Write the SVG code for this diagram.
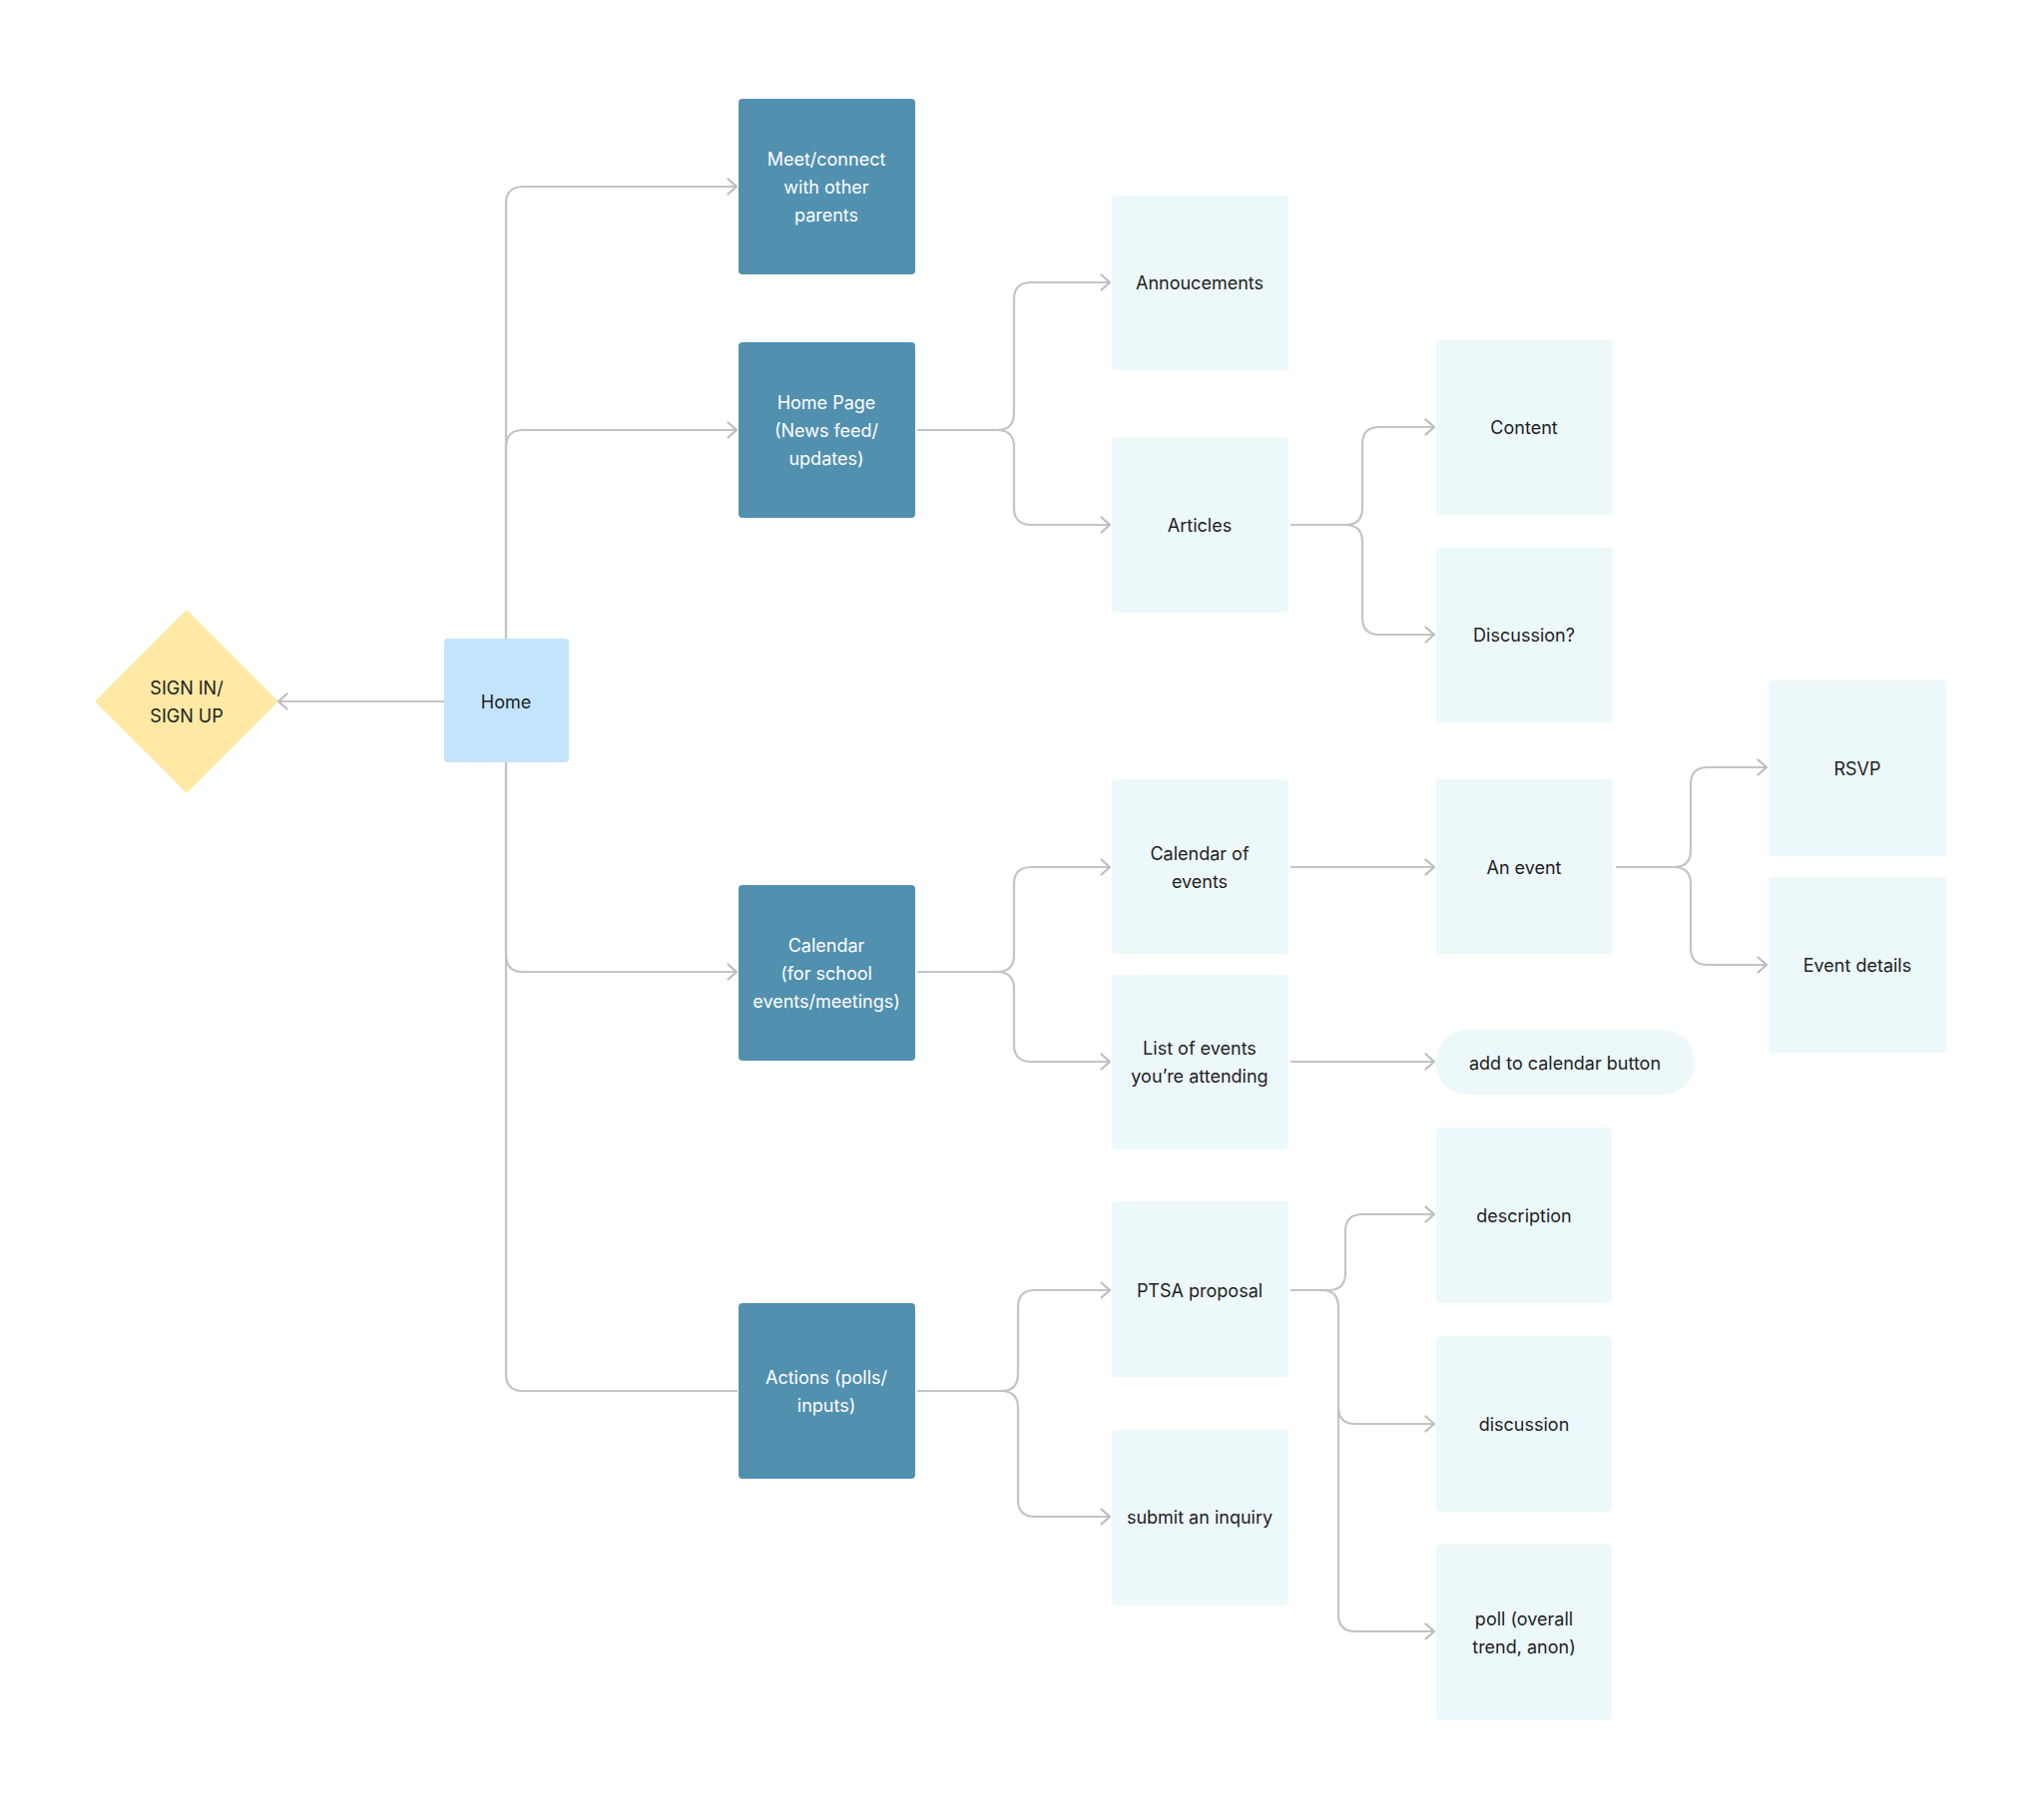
<svg xmlns="http://www.w3.org/2000/svg" width="2048" height="1823" viewBox="0 0 2048 1823">
<defs>
<marker id="arr" viewBox="0 0 12 18" refX="10.5" refY="9" markerWidth="12" markerHeight="18" markerUnits="userSpaceOnUse" orient="auto">
<path d="M2,1.5 L10.5,9 L2,16.5" fill="none" stroke="#bdbdbd" stroke-width="2.2" stroke-linecap="round" stroke-linejoin="round"/>
</marker>
<style>
.dark{fill:#5290b0}
.light{fill:#edf8fb}
.home{fill:#c2e4fc}
.dia{fill:#ffe9a5}
text{font-family:Inter,"Noto Sans","Liberation Sans",sans-serif;font-size:18px;text-anchor:middle;dominant-baseline:central}
.w{fill:#ffffff}
.k{fill:#1e1e1e}
.c{fill:none;stroke:#c4c4c4;stroke-width:2.2}
.a{marker-end:url(#arr)}
</style>
</defs>
<rect width="2048" height="1823" fill="#ffffff"/>
<g id="connectors">
<path class="c a" d="M445,703 H279"/>
<path class="c a" d="M507,640 V204 Q507,187 524,187 H738"/>
<path class="c a" d="M507,640 V448 Q507,431 524,431 H738"/>
<path class="c a" d="M507,764 V957 Q507,974 524,974 H738"/>
<path class="c" d="M507,764 V1377 Q507,1394 524,1394 H739"/>
<path class="c a" d="M919,431 H999 Q1016,431 1016,414 V300 Q1016,283 1033,283 H1112"/>
<path class="c a" d="M919,431 H999 Q1016,431 1016,448 V509 Q1016,526 1033,526 H1112"/>
<path class="c a" d="M1293,526 H1348 Q1365,526 1365,509 V445 Q1365,428 1382,428 H1437"/>
<path class="c a" d="M1293,526 H1348 Q1365,526 1365,543 V619 Q1365,636 1382,636 H1437"/>
<path class="c a" d="M919,974 H999 Q1016,974 1016,957 V886 Q1016,869 1033,869 H1112"/>
<path class="c a" d="M919,974 H999 Q1016,974 1016,991 V1047 Q1016,1064 1033,1064 H1112"/>
<path class="c a" d="M1293,869 H1437"/>
<path class="c a" d="M1293,1064 H1437"/>
<path class="c a" d="M1619,869 H1677 Q1694,869 1694,852 V786 Q1694,769 1711,769 H1770"/>
<path class="c a" d="M1619,869 H1677 Q1694,869 1694,886 V950 Q1694,967 1711,967 H1770"/>
<path class="c a" d="M919,1394 H1003 Q1020,1394 1020,1377 V1310 Q1020,1293 1037,1293 H1112"/>
<path class="c a" d="M919,1394 H1003 Q1020,1394 1020,1411 V1503 Q1020,1520 1037,1520 H1112"/>
<path class="c a" d="M1293,1293 H1331 Q1348,1293 1348,1276 V1234 Q1348,1217 1365,1217 H1437"/>
<path class="c a" d="M1293,1293 H1324 Q1341,1293 1341,1310 V1618 Q1341,1635 1358,1635 H1437"/>
<path class="c a" d="M1341,1410 Q1341,1427 1358,1427 H1437"/>
</g>
<g id="sign-in">
<path class="dia" d="M187,614 L276,703 L187,792 L98,703 Z" stroke="#ffe9a5" stroke-width="4" stroke-linejoin="round"/>
<text class="k" x="187" y="689">SIGN IN/</text>
<text class="k" x="187" y="717">SIGN UP</text>
</g>
<g id="home">
<rect class="home" x="445" y="640" width="125" height="124" rx="4"/>
<text class="k" x="507" y="703">Home</text>
</g>
<g id="meet">
<rect class="dark" x="740" y="99" width="177" height="176" rx="4"/>
<text class="w" x="828" y="159">Meet/connect</text>
<text class="w" x="828" y="187">with other</text>
<text class="w" x="828" y="215">parents</text>
</g>
<g id="home-page">
<rect class="dark" x="740" y="343" width="177" height="176" rx="4"/>
<text class="w" x="828" y="403">Home Page</text>
<text class="w" x="828" y="431">(News feed/</text>
<text class="w" x="828" y="459">updates)</text>
</g>
<g id="calendar">
<rect class="dark" x="740" y="887" width="177" height="176" rx="4"/>
<text class="w" x="828" y="947">Calendar</text>
<text class="w" x="828" y="975">(for school</text>
<text class="w" x="828" y="1003">events/meetings)</text>
</g>
<g id="actions">
<rect class="dark" x="740" y="1306" width="177" height="176" rx="4"/>
<text class="w" x="828" y="1380">Actions (polls/</text>
<text class="w" x="828" y="1408">inputs)</text>
</g>
<g id="annoucements">
<rect class="light" x="1114" y="196" width="177" height="175" rx="4"/>
<text class="k" x="1202" y="283">Annoucements</text>
</g>
<g id="articles">
<rect class="light" x="1114" y="438" width="177" height="176" rx="4"/>
<text class="k" x="1202" y="526">Articles</text>
</g>
<g id="content">
<rect class="light" x="1439" y="341" width="177" height="175" rx="4"/>
<text class="k" x="1527" y="428">Content</text>
</g>
<g id="discussion-q">
<rect class="light" x="1439" y="549" width="177" height="175" rx="4"/>
<text class="k" x="1527" y="636">Discussion?</text>
</g>
<g id="calendar-of-events">
<rect class="light" x="1114" y="781" width="177" height="175" rx="4"/>
<text class="k" x="1202" y="855">Calendar of</text>
<text class="k" x="1202" y="883">events</text>
</g>
<g id="list-of-events">
<rect class="light" x="1114" y="977" width="177" height="175" rx="4"/>
<text class="k" x="1202" y="1050">List of events</text>
<text class="k" x="1202" y="1078">you’re attending</text>
</g>
<g id="an-event">
<rect class="light" x="1439" y="781" width="177" height="175" rx="4"/>
<text class="k" x="1527" y="869">An event</text>
</g>
<g id="add-to-calendar">
<rect class="light" x="1439" y="1032" width="259" height="65" rx="32"/>
<text class="k" x="1568" y="1065">add to calendar button</text>
</g>
<g id="rsvp">
<rect class="light" x="1772" y="682" width="178" height="176" rx="4"/>
<text class="k" x="1861" y="770">RSVP</text>
</g>
<g id="event-details">
<rect class="light" x="1772" y="879" width="178" height="176" rx="4"/>
<text class="k" x="1861" y="967">Event details</text>
</g>
<g id="ptsa-proposal">
<rect class="light" x="1114" y="1204" width="177" height="176" rx="4"/>
<text class="k" x="1202" y="1293">PTSA proposal</text>
</g>
<g id="submit-inquiry">
<rect class="light" x="1114" y="1433" width="177" height="176" rx="4"/>
<text class="k" x="1202" y="1520">submit an inquiry</text>
</g>
<g id="description">
<rect class="light" x="1439" y="1130" width="176" height="176" rx="4"/>
<text class="k" x="1527" y="1218">description</text>
</g>
<g id="discussion">
<rect class="light" x="1439" y="1339" width="176" height="176" rx="4"/>
<text class="k" x="1527" y="1427">discussion</text>
</g>
<g id="poll">
<rect class="light" x="1439" y="1548" width="176" height="176" rx="4"/>
<text class="k" x="1527" y="1622">poll (overall</text>
<text class="k" x="1527" y="1650">trend, anon)</text>
</g>
</svg>
